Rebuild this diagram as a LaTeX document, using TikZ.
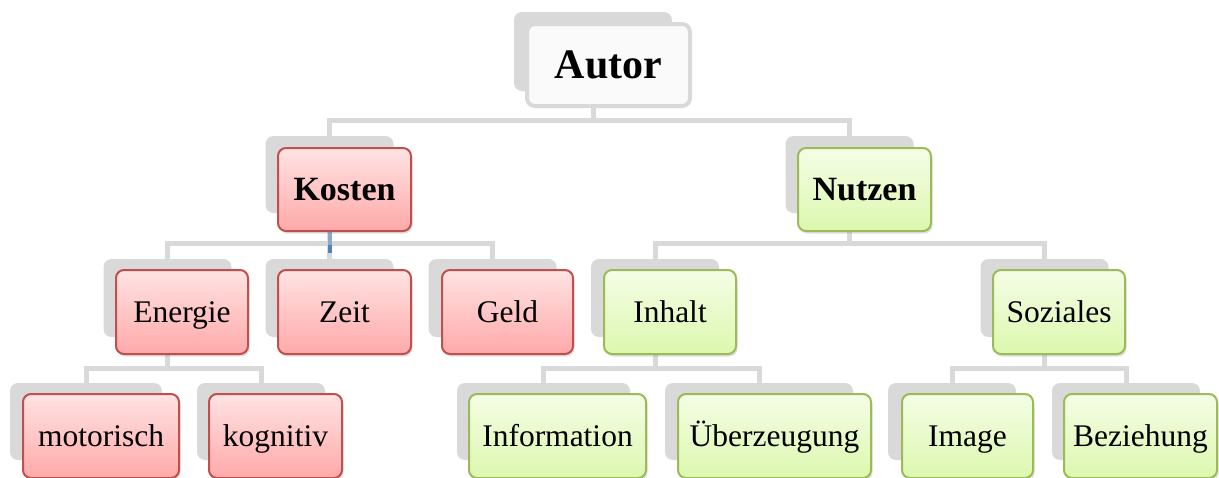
\documentclass[tikz,border=0pt]{standalone}
\usepackage{fontspec}
\setmainfont{Liberation Serif}
\usetikzlibrary{shadows}

\definecolor{backgray}{HTML}{D9D9D9}
\definecolor{redline}{HTML}{C0504D}
\definecolor{redtop}{HTML}{FFE3E3}
\definecolor{redbot}{HTML}{FFA9A9}
\definecolor{greenline}{HTML}{9BBB59}
\definecolor{greentop}{HTML}{F5FDE6}
\definecolor{greenbot}{HTML}{DCF8AE}
\definecolor{markblue}{HTML}{4F81BD}

\tikzset{
  back/.style={fill=backgray, draw=none, rounded corners=8pt, inner sep=0pt},
  front/.style={rounded corners=8pt, line width=2pt, inner sep=0pt,
    text height=20.5pt, text depth=0pt,
    drop shadow={opacity=0.25, shadow xshift=1.5pt, shadow yshift=-2.5pt},
    font=\fontsize{31.5}{36}\selectfont},
  kbox/.style={front, draw=redline, top color=redtop, bottom color=redbot},
  nbox/.style={front, draw=greenline, top color=greentop, bottom color=greenbot},
  topbox/.style={rounded corners=8pt, line width=4pt, inner sep=0pt,
    text height=27.5pt, text depth=0pt,
    draw=backgray, fill=white!98!black, font=\fontsize{42}{48}\selectfont\bfseries},
  headtxt/.style={text height=22.5pt, font=\fontsize{34}{40}\selectfont\bfseries},
  conn/.style={draw=backgray, line width=5pt},
}

\begin{document}
\begin{tikzpicture}[x=1pt, y=-1pt]
  \useasboundingbox (0,0) rectangle (1219,477);
  \coordinate (row1) at (0,120);
  \coordinate (row2) at (0,243);
  \coordinate (row3) at (0,368);

  % back boxes
  \node[back, minimum width=158pt, minimum height=79pt] (autorB) at (593,51.5) {};
  \node[back, minimum width=128pt, minimum height=77pt] (kostenB) at (329.5,174.5) {};
  \node[back, minimum width=128pt, minimum height=77pt] (nutzenB) at (849.5,174.5) {};
  \node[back, minimum width=128pt, minimum height=78pt] (energieB) at (167.5,298) {};
  \node[back, minimum width=128pt, minimum height=78pt] (zeitB) at (329.5,298) {};
  \node[back, minimum width=128pt, minimum height=78pt] (geldB) at (492.5,298) {};
  \node[back, minimum width=128pt, minimum height=78pt] (inhaltB) at (655,298) {};
  \node[back, minimum width=128pt, minimum height=78pt] (sozialesB) at (1044.5,298) {};
  \node[back, minimum width=152pt, minimum height=77pt] (motorischB) at (86,421.5) {};
  \node[back, minimum width=128pt, minimum height=77pt] (kognitivB) at (261,421.5) {};
  \node[back, minimum width=173pt, minimum height=77pt] (informationB) at (543.5,421.5) {};
  \node[back, minimum width=188pt, minimum height=77pt] (ueberzeugungB) at (759,421.5) {};
  \node[back, minimum width=128pt, minimum height=77pt] (imageB) at (952,421.5) {};
  \node[back, minimum width=148pt, minimum height=77pt] (beziehungB) at (1126,421.5) {};

  % connectors
  \draw[conn] (autorB.center) -- (autorB.center |- row1) -| (kostenB.center);
  \draw[conn] (autorB.center) -- (autorB.center |- row1) -| (nutzenB.center);
  \draw[conn] (kostenB.center) -- (kostenB.center |- row2) -| (energieB.center);
  \draw[conn] (kostenB.center) -- (zeitB.center);
  \draw[conn] (kostenB.center) -- (kostenB.center |- row2) -| (geldB.center);
  \draw[conn] (nutzenB.center) -- (nutzenB.center |- row2) -| (inhaltB.center);
  \draw[conn] (nutzenB.center) -- (nutzenB.center |- row2) -| (sozialesB.center);
  \draw[conn] (energieB.center) -- (energieB.center |- row3) -| (motorischB.center);
  \draw[conn] (energieB.center) -- (energieB.center |- row3) -| (kognitivB.center);
  \draw[conn] (inhaltB.center) -- (inhaltB.center |- row3) -| (informationB.center);
  \draw[conn] (inhaltB.center) -- (inhaltB.center |- row3) -| (ueberzeugungB.center);
  \draw[conn] (sozialesB.center) -- (sozialesB.center |- row3) -| (imageB.center);
  \draw[conn] (sozialesB.center) -- (sozialesB.center |- row3) -| (beziehungB.center);
  \fill[markblue!55!backgray] (328,232) rectangle (331.5,245);
  \fill[markblue] (328,245) rectangle (331.5,253);

  % front boxes
  \node[topbox, minimum width=163pt, minimum height=82pt] (autor) at (608.5,65) {Autor};
  \node[kbox, headtxt, minimum width=133pt, minimum height=83pt] (kosten) at (344.5,189.5) {Kosten};
  \node[nbox, headtxt, minimum width=133pt, minimum height=83pt] (nutzen) at (864.5,189.5) {Nutzen};
  \node[kbox, minimum width=132pt, minimum height=84pt] (energie) at (182,312) {Energie};
  \node[kbox, minimum width=133pt, minimum height=84pt] (zeit) at (344.5,312) {Zeit};
  \node[kbox, minimum width=131pt, minimum height=84pt] (geld) at (507.5,312) {Geld};
  \node[nbox, minimum width=132pt, minimum height=84pt] (inhalt) at (670,312) {Inhalt};
  \node[nbox, minimum width=132pt, minimum height=84pt] (soziales) at (1059,312) {Soziales};
  \node[kbox, minimum width=156pt, minimum height=84pt] (motorisch) at (101,436) {motorisch};
  \node[kbox, minimum width=133pt, minimum height=84pt] (kognitiv) at (275.5,436) {kognitiv};
  \node[nbox, minimum width=177pt, minimum height=84pt] (information) at (557.5,436) {Information};
  \node[nbox, minimum width=193pt, minimum height=84pt] (ueberzeugung) at (774.5,436) {Überzeugung};
  \node[nbox, minimum width=131pt, minimum height=84pt] (image) at (967.5,436) {Image};
  \node[nbox, minimum width=153pt, minimum height=84pt] (beziehung) at (1140.5,436) {Beziehung};
\end{tikzpicture}
\end{document}
